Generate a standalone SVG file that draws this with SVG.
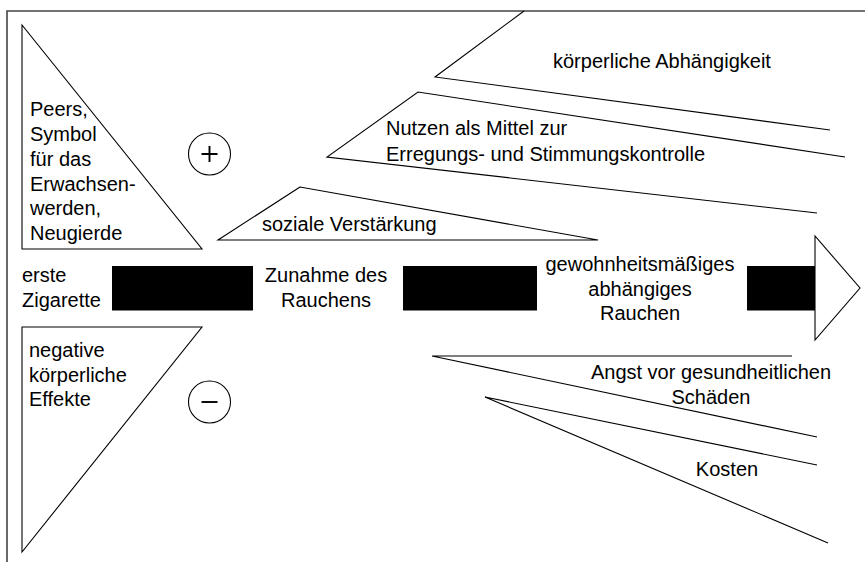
<svg xmlns="http://www.w3.org/2000/svg" width="865" height="562" viewBox="0 0 865 562">
<style>
text{font-family:"Liberation Sans",Arial,sans-serif;font-size:20px;fill:#000}
.s{fill:#fff;stroke:#000;stroke-width:1.1}
.l{fill:none;stroke:#000;stroke-width:1.1}
.sg{fill:none;stroke:#000;stroke-width:1.9}
.m{text-anchor:middle}
.bar{fill:#000}
</style>
<rect width="865" height="562" fill="#fff"/>
<path d="M7,562 V11 H865" fill="none" stroke="#444" stroke-width="1.6"/>
<g id="peers">
<polygon class="s" points="22,25 22,249 202,249"/>
<text x="30" y="116">Peers,</text>
<text x="30" y="141">Symbol</text>
<text x="30" y="165.5">für das</text>
<text x="30" y="190.5">Erwachsen-</text>
<text x="30" y="215">werden,</text>
<text x="30" y="240">Neugierde</text>
</g>
<g id="negative">
<polygon class="s" points="22,327 202,327 22,552"/>
<text x="29" y="357">negative</text>
<text x="29" y="381.5">körperliche</text>
<text x="29" y="405.5">Effekte</text>
</g>
<g id="plus">
<circle class="s" cx="209.5" cy="154" r="21"/>
<path class="sg" d="M201.5,154 H217.5 M209.5,146 V162"/>
</g>
<g id="minus">
<circle class="s" cx="209.5" cy="402" r="21"/>
<path class="sg" d="M201.5,402 H217.5"/>
</g>
<g id="koerperlich">
<polyline class="l" points="524,11 435,77 830,130"/>
<text x="553" y="68">körperliche Abhängigkeit</text>
</g>
<g id="nutzen">
<polyline class="l" points="845,157 418,92 327,157 817,213"/>
<text x="386" y="135">Nutzen als Mittel zur</text>
<text x="386" y="160.5">Erregungs- und Stimmungskontrolle</text>
</g>
<g id="sozial">
<polygon class="s" points="300,187 218,240 598,240"/>
<text x="262" y="231">soziale Verstärkung</text>
</g>
<g id="angst">
<polyline class="l" points="792,356 432,356 817,437"/>
<text class="m" x="711" y="379">Angst vor gesundheitlichen</text>
<text class="m" x="711" y="403.5">Schäden</text>
</g>
<g id="kosten">
<polyline class="l" points="817,465 485,397 828,543"/>
<text class="m" x="727" y="476">Kosten</text>
</g>
<g id="erste">
<text x="22" y="282">erste</text>
<text x="22" y="306.5">Zigarette</text>
</g>
<g id="zunahme">
<text class="m" x="326" y="282">Zunahme des</text>
<text class="m" x="326" y="306.5">Rauchens</text>
</g>
<g id="gewohnheit">
<text class="m" x="640" y="271">gewohnheitsmäßiges</text>
<text class="m" x="640" y="295.5">abhängiges</text>
<text class="m" x="640" y="320">Rauchen</text>
</g>
<g id="connectors">
<rect class="bar" x="112" y="266" width="141" height="44.5"/>
<rect class="bar" x="403" y="266" width="134" height="44.5"/>
<rect class="bar" x="747" y="266" width="68" height="44.5"/>
<polygon class="s" points="815,236 815,340 860,288"/>
</g>
</svg>
